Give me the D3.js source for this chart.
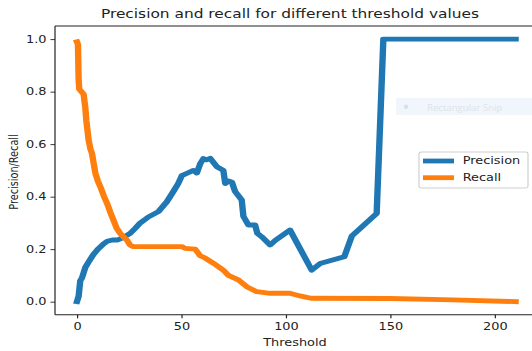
<!DOCTYPE html>
<html>
<head>
<meta charset="utf-8">
<script src="https://cdn.jsdelivr.net/npm/d3@7"></script>
<style>
  html, body { margin: 0; padding: 0; background: #fff; overflow: hidden; }
  text { font-family: "DejaVu Sans", sans-serif; }
</style>
</head>
<body>
<svg id="chart" width="532" height="351"></svg>
<script>
// Precision curve: threshold -> precision
const precisionThresholds = [0, 0.8, 1.6, 2.4, 4, 5.5, 7.9, 10, 12.7, 14.5, 17, 19.5, 22.3, 25.5, 28, 30.3,
  34.3, 39, 43, 46.2, 48.5, 50.2, 53, 55.8, 57.4, 59, 60.6, 62, 63.8, 67, 70.1, 71, 72.5, 74.2, 75.7,
  78.9, 79.7, 82.1, 85.3, 86.4, 88.5, 92.5, 94.9, 102, 112.4, 116.4, 128, 131.6, 143.5, 146.7, 210];
const precisionValues = [0.0, 0.02, 0.08, 0.09, 0.13, 0.15, 0.18, 0.2, 0.22, 0.23, 0.235, 0.235, 0.245, 0.26, 0.28, 0.3,
  0.323, 0.343, 0.38, 0.42, 0.45, 0.48, 0.49, 0.5, 0.49, 0.525, 0.545, 0.54, 0.546, 0.514, 0.5, 0.45, 0.46, 0.455, 0.42,
  0.387, 0.325, 0.292, 0.292, 0.26, 0.247, 0.216, 0.233, 0.273, 0.12, 0.145, 0.171, 0.25, 0.336, 1.0, 1.0];

// Recall curve: threshold -> recall
const recallThresholds = [0, 0.5, 0.8, 1.1, 3.2, 4, 4.5, 5.6, 6.5, 7.2, 8.8, 10, 11.1, 13, 14.4, 16, 17.5, 19,
  20.7, 22.5, 23.9, 25.5, 27, 50.2, 51.8, 56.6, 59, 61.4, 65.4, 70.1, 72.5, 77.3, 81.3, 86.1, 92.5, 102,
  106.8, 112, 150, 180, 210];
const recallValues = [0.99, 0.98, 0.85, 0.81, 0.79, 0.74, 0.69, 0.615, 0.58, 0.565, 0.49, 0.46, 0.44, 0.4, 0.375, 0.34, 0.31, 0.28,
  0.26, 0.245, 0.235, 0.215, 0.21, 0.21, 0.203, 0.2, 0.175, 0.166, 0.146, 0.12, 0.1, 0.083, 0.057, 0.038, 0.032, 0.032,
  0.022, 0.013, 0.012, 0.007, 0.0];

const xTicks = [0, 50, 100, 150, 200];
const yTicks = [0, 0.2, 0.4, 0.6, 0.8, 1.0];
const seriesNames = ["Precision", "Recall"];
const seriesColors = ["#1f77b4", "#ff7f0e"];
const titleText = "Precision and recall for different threshold values";
const xLabel = "Threshold";
const yLabel = "Precision/Recall";

// The figure is drawn with a horizontal stretch applied to the whole plot group
const SX = 1.33;
const svg = d3.select("#chart");
const plot = svg.append("g").attr("transform", `scale(${SX},1)`);

const axLeft = 55 / SX, axRight = 537.5 / SX, axTop = 26, axBottom = 314.8;
const x = d3.scaleLinear().domain([-10.5, 220.5]).range([axLeft, axRight]);
const y = d3.scaleLinear().domain([-0.05, 1.05]).range([axBottom, axTop]);

const tickFont = 9.7;
const ink = "#222";

// Series lines
const series = [
  { t: precisionThresholds, v: precisionValues },
  { t: recallThresholds, v: recallValues }
];
const line = d3.line().x(d => x(d[0])).y(d => y(d[1]));
series.forEach((s, i) => {
  plot.append("path")
    .datum(s.t.map((t, k) => [t, s.v[k]]))
    .attr("d", line)
    .attr("fill", "none")
    .attr("stroke", seriesColors[i])
    .attr("stroke-width", 4.8)
    .attr("stroke-linejoin", "round")
    .attr("stroke-linecap", "square");
});

// Spines
const spine = plot.append("g").attr("stroke", ink).attr("stroke-width", 0.9).attr("fill", "none");
spine.append("line").attr("x1", axLeft).attr("x2", axLeft).attr("y1", axTop).attr("y2", axBottom);
spine.append("line").attr("x1", axLeft).attr("x2", axRight).attr("y1", axTop).attr("y2", axTop);
spine.append("line").attr("x1", axLeft).attr("x2", axRight).attr("y1", axBottom).attr("y2", axBottom);
spine.append("line").attr("x1", axRight).attr("x2", axRight).attr("y1", axTop).attr("y2", axBottom);

// Axes
const xAxis = plot.append("g")
  .attr("transform", `translate(0,${axBottom})`)
  .call(d3.axisBottom(x).tickValues(xTicks).tickFormat(d3.format("d")).tickSize(3.5).tickPadding(5.3).tickSizeOuter(0));
const yAxis = plot.append("g")
  .attr("transform", `translate(${axLeft},0)`)
  .call(d3.axisLeft(y).tickValues(yTicks).tickFormat(d3.format(".1f")).tickSize(3.4).tickPadding(3).tickSizeOuter(0));
[xAxis, yAxis].forEach(a => {
  a.select(".domain").remove();
  a.attr("font-family", null).attr("font-size", null);
  a.selectAll("line").attr("stroke", ink).attr("stroke-width", 0.9);
  a.selectAll("text").attr("fill", ink).style("font-size", tickFont + "px");
});
yAxis.selectAll("text").attr("dy", "0.33em");

// Title and axis labels
plot.append("text")
  .attr("x", 290 / SX).attr("y", 18.5)
  .attr("text-anchor", "middle")
  .attr("fill", ink)
  .style("font-size", "11.6px")
  .text(titleText);
plot.append("text")
  .attr("x", 295 / SX).attr("y", 346)
  .attr("text-anchor", "middle")
  .attr("fill", ink)
  .style("font-size", tickFont + "px")
  .text(xLabel);
plot.append("text")
  .attr("transform", `translate(${17.5 / SX},172) rotate(-90)`)
  .attr("text-anchor", "middle")
  .attr("fill", ink)
  .style("font-size", tickFont + "px")
  .text(yLabel);

// Legend
const legend = plot.append("g");
legend.append("rect")
  .attr("x", 419 / SX).attr("y", 152)
  .attr("width", (528 - 419) / SX).attr("height", 36)
  .attr("rx", 2).attr("ry", 2)
  .attr("fill", "#fff").attr("fill-opacity", 0.8)
  .attr("stroke", "#d0d0d0").attr("stroke-width", 0.9);
seriesNames.forEach((name, i) => {
  const ly = 161 + i * 16.7;
  legend.append("line")
    .attr("x1", 423 / SX).attr("x2", 454 / SX)
    .attr("y1", ly).attr("y2", ly)
    .attr("stroke", seriesColors[i]).attr("stroke-width", 4.8);
  legend.append("text")
    .attr("x", 462.7 / SX).attr("y", ly).attr("dy", "0.35em")
    .attr("fill", ink)
    .style("font-size", tickFont + "px")
    .text(name);
});

// Faint screen-capture tooltip sitting over the plot area
const snip = svg.append("g");
snip.append("rect").attr("x", 396).attr("y", 98).attr("width", 136).attr("height", 17).attr("fill", "#f1f6fd");
snip.append("circle").attr("cx", 406).attr("cy", 106.7).attr("r", 2.2).attr("fill", "#d9e0ea");
snip.append("text").attr("x", 427).attr("y", 110.5)
  .attr("fill", "#dde3ea").style("font-size", "9.6px").style("font-family", "'Open Sans', sans-serif")
  .text("Rectangular Snip");
</script>
</body>
</html>
